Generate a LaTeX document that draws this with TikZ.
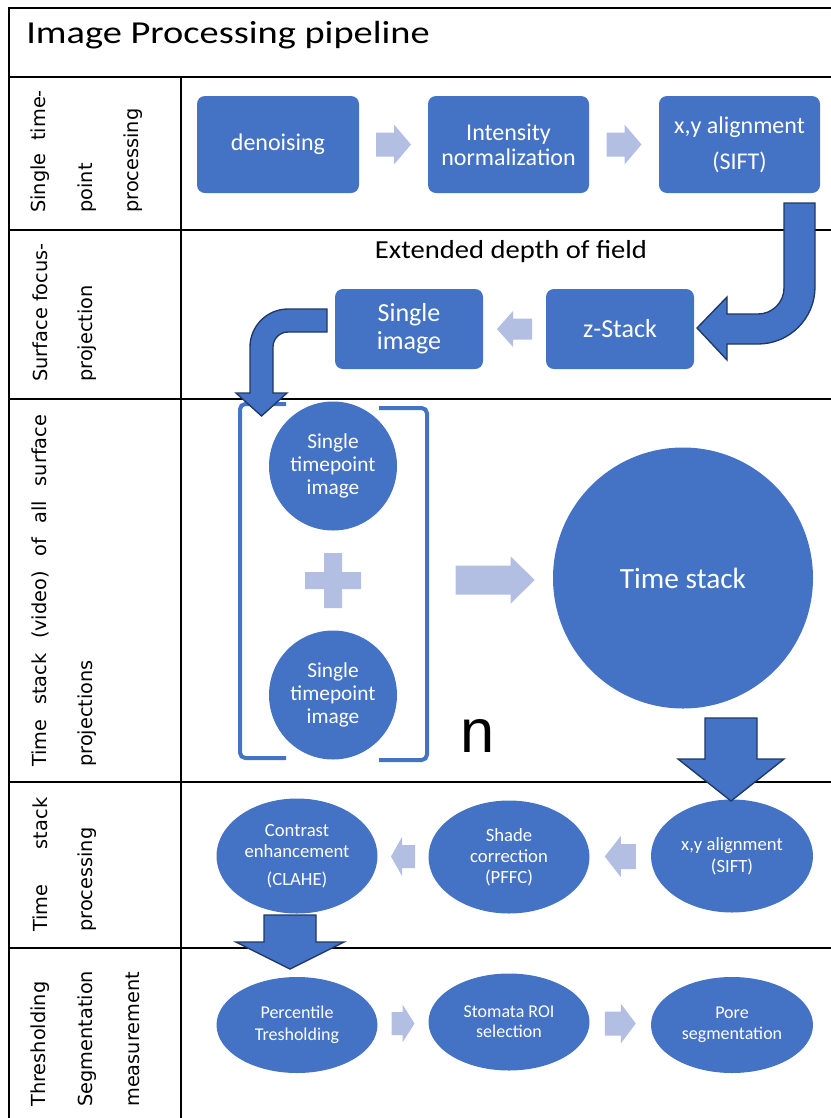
\documentclass[tikz,border=0pt]{standalone}
\usepackage{fontspec}
\usepackage{graphicx}
\setmainfont{Carlito}
\newfontfamily\labelfont{DejaVu Sans}
\newfontfamily\nfont{Liberation Sans}
\usetikzlibrary{shapes.geometric,calc}

\definecolor{boxblue}{RGB}{68,114,196}
\definecolor{paleblue}{RGB}{178,191,226}
\definecolor{navy}{RGB}{31,56,100}

\tikzset{
  pxsize/.style 2 args={minimum width=#1*0.75pt, minimum height=#2*0.75pt},
  stepbox/.style={rectangle, rounded corners=6pt, fill=boxblue, text=white, align=center, inner sep=0pt},
  stepoval/.style={ellipse, fill=boxblue, text=white, align=center, inner sep=0pt},
  rowlabel/.style={rotate=90, anchor=west, inner sep=0pt, font=\labelfont\fontsize{14.5}{17}\selectfont},
  rule/.style={line width=1.5pt},
  bracket/.style={draw=boxblue, line width=3pt, rounded corners=4pt},
  bigarrow/.style={fill=boxblue, draw=navy, line width=1pt, line join=miter},
  pics/lightarr/.style n args={4}{code={
    \fill[paleblue] (-#1/2,-#3) -- ++(#1-#2,0) -- ++(0,#3-#4) -- ++(#2,#4)
      -- ++(-#2,#4) -- ++(0,#3-#4) -- ++(#2-#1,0) -- cycle;}},
}

\begin{document}
\begin{tikzpicture}[x=0.75pt,y=-0.75pt]
\useasboundingbox (0,0) rectangle (831,1118);

% table
\draw[rule] (831,8) -- (9,8) -- (9,1118);
\draw[rule] (9,77) -- (831,77);
\draw[rule] (181,77) -- (181,1118);
\foreach \y in {230,399,782,948}
  \draw[rule] (9,\y) -- (831,\y);

\path node[anchor=base west, inner sep=0pt, font=\fontsize{24}{24}\selectfont] (title) at (26,43)
  {\scalebox{1.2}[1]{Image Processing pipeline}};

% row labels
\path node[rowlabel] (r1a) at (40,213) {\makebox[92pt][s]{Single time-}}
node[rowlabel] (r1b) at (87,213) {point}
node[rowlabel] (r1c) at (133,213) {processing}
node[rowlabel] (r2a) at (40,382) {Surface focus-}
node[rowlabel] (r2b) at (87,382) {projection}
node[rowlabel] (r3a) at (40,767) {\makebox[264pt][s]{Time stack (video) of all surface}}
node[rowlabel] (r3b) at (87,767) {projections}
node[rowlabel] (r4a) at (40,932) {\makebox[100.5pt][s]{Time stack}}
node[rowlabel] (r4b) at (87,932) {processing}
node[rowlabel] (r5a) at (40,1107) {Thresholding}
node[rowlabel] (r5b) at (87,1107) {Segmentation}
node[rowlabel] (r5c) at (133,1107) {measurement}
;

% single time-point processing
\path node[stepbox, pxsize={162}{97}, font=\fontsize{18}{18.75}\selectfont] (den) at (278,144.5) {denoising}
node[stepbox, pxsize={161}{97}, font=\fontsize{18}{18.75}\selectfont] (int) at (508.5,144.5) {Intensity\\normalization}
node[stepbox, pxsize={161}{97}, font=\fontsize{18}{18.75}\selectfont] (xy1) at (739.5,144.5) {x,y alignment\\[8pt](SIFT)}
;
\path ($(den.east)!0.5!(int.west)$) pic {lightarr={35}{17}{12}{20}};
\path ($(int.east)!0.5!(xy1.west)$) pic {lightarr={35}{17}{12}{20}};

% surface focus projection
\path node[anchor=base, inner sep=0pt, font=\fontsize{19.5}{20}\selectfont] (edof) at (511,258)
  {\scalebox{1.1}[1]{Extended depth of field}}
node[stepbox, pxsize={148}{80}, font=\fontsize{19.5}{21}\selectfont] (single) at (409,329) {Single\\image}
node[stepbox, pxsize={148}{80}, font=\fontsize{19.5}{21}\selectfont] (zst) at (620,329) {z-Stack}
;
\path ($(single.east)!0.5!(zst.west)$) pic[rotate=180] {lightarr={35}{16}{10.5}{18}};

% time stack of projections
\path node[stepoval, pxsize={128}{129}, font=\fontsize{16}{17}\selectfont] (tp1) at (333,466) {Single\\timepoint\\image}
node[stepoval, pxsize={128}{129}, font=\fontsize{16}{17}\selectfont] (tp2) at (333,695) {Single\\timepoint\\image}
node[stepoval, pxsize={260}{261}, font=\fontsize{22}{24}\selectfont] (ts) at (683,578) {Time stack}
node[anchor=base, inner sep=0pt, font=\nfont\fontsize{46}{46}\selectfont] (nlab) at (478,752) {n}
;
\draw[bracket] (286,404) -- (240,404) -- (240,758) -- (286,758);
\draw[bracket] (379,408) -- (427,408) -- (427,760) -- (379,760);
\fill[paleblue] (305,572) rectangle (361,589) (324,553) rectangle (342,608);
\path ($(ts.west)+(-57.5,2)$) pic {lightarr={79}{24}{14.5}{23.5}};

% time stack processing
\path node[stepoval, pxsize={161}{115}, font=\fontsize{14}{15.75}\selectfont] (cla) at (297,856) {Contrast\\enhancement\\[5pt](CLAHE)}
node[stepoval, pxsize={161}{113}, font=\fontsize{14}{15.75}\selectfont] (pffc) at (509,857) {Shade\\correction\\(PFFC)}
node[stepoval, pxsize={162}{113}, font=\fontsize{14}{16.5}\selectfont] (xy2) at (732,856) {x,y alignment\\(SIFT)}
;
\path ($(cla.east)!0.5!(pffc.west)$) pic[rotate=180] {lightarr={24}{11}{11.5}{19.5}};
\path ($(pffc.east)!0.5!(xy2.west)$) pic[rotate=180] {lightarr={31}{16}{12.5}{20.5}};

% thresholding, segmentation, measurement
\path node[stepoval, pxsize={161}{96}, font=\fontsize{13.5}{16.5}\selectfont] (pct) at (297,1025) {Percentile\\Tresholding}
node[stepoval, pxsize={161}{97}, font=\fontsize{13.5}{15}\selectfont] (roi) at (509,1022) {Stomata ROI\\selection}
node[stepoval, pxsize={162}{96}, font=\fontsize{13.5}{15.75}\selectfont] (pore) at (732,1025) {Pore\\segmentation}
;
\path ($(pct.east)!0.5!(roi.west)$) pic {lightarr={23}{12}{11.5}{19}};
\path ($(roi.east)!0.5!(pore.west)$) pic {lightarr={31}{15}{12}{20}};

% big arrows
\draw[bigarrow] (784,203) -- (815,203) -- (815,287) arc[start angle=0, end angle=90, radius=57]
  -- (727,344) -- (727,360) -- (697,328) -- (727,297) -- (727,314) -- (758,314)
  arc[start angle=90, end angle=0, radius=26] -- cycle;
\draw[bigarrow] (327,309) -- (288,309) arc[start angle=270, end angle=180, radius=38]
  -- (250,393) -- (236,393) -- (261.5,416) -- (287,393) -- (273,393) -- (273,347)
  arc[start angle=180, end angle=270, radius=15] -- (327,332) -- cycle;
\draw[bigarrow] (705,718) -- (757,718) -- (757,759) -- (784,759) -- (731,801) -- (678,759) -- (705,759) -- cycle;
\draw[bigarrow] (264,915) -- (316,915) -- (316,942) -- (344,942) -- (290,969) -- (236,942) -- (264,942) -- cycle;
\end{tikzpicture}
\end{document}
